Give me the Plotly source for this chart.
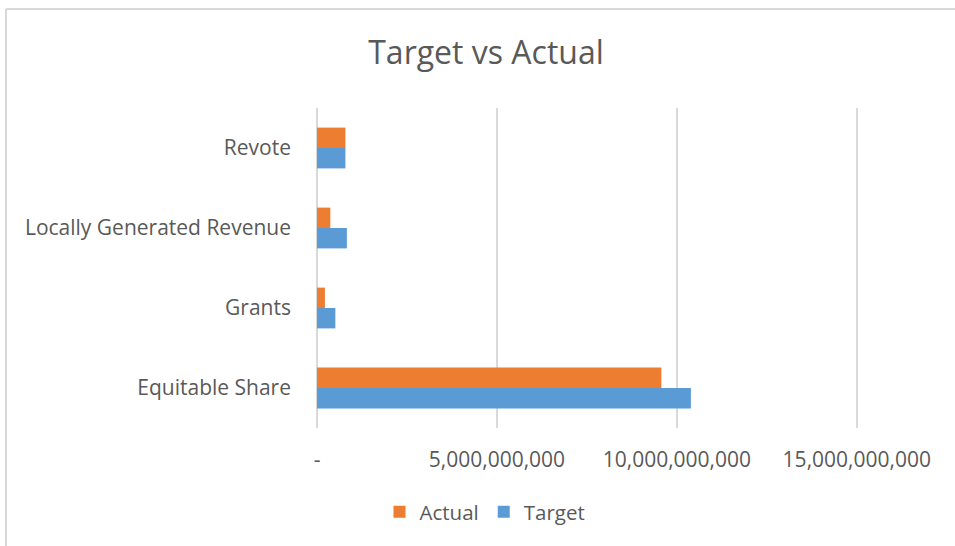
import plotly.graph_objects as go

categories = ["Equitable Share", "Grants", "Locally Generated Revenue", "Revote"]
target = [10.39e9, 0.51e9, 0.83e9, 0.79e9]
actual = [9.57e9, 0.22e9, 0.37e9, 0.79e9]
tick_vals = [0, 5e9, 10e9, 15e9]
tick_text = ["-", "5,000,000,000", "10,000,000,000", "15,000,000,000"]

GRAY_TEXT = "#595959"
GRID = "#d9d9d9"
FONT = "Open Sans"

fig = go.Figure()
fig.add_trace(go.Bar(y=categories, x=target, name="Target", orientation="h",
                     marker=dict(color="#5B9BD5", line=dict(width=0))))
fig.add_trace(go.Bar(y=categories, x=actual, name="Actual", orientation="h",
                     marker=dict(color="#ED7D31", line=dict(width=0))))

W, H = 955, 546
L, T = 317, 108
XMAX = 15.2e9
px_per = (857 - 317) / 15e9
pw = round(XMAX * px_per)
R = W - L - pw
B = H - 428
ph = H - T - B

fig.update_layout(
    width=W, height=H,
    margin=dict(l=L, r=R, t=T, b=B),
    paper_bgcolor="white", plot_bgcolor="white",
    barmode="group", bargap=0.49, bargroupgap=0,
    title=dict(text="Target vs Actual", x=486 / W, xanchor="center",
               y=1 - 53 / H, yanchor="middle",
               font=dict(family=FONT, size=32, color=GRAY_TEXT)),
    xaxis=dict(range=[0, XMAX], tickvals=tick_vals, ticktext=tick_text,
               showgrid=True, gridcolor=GRID, gridwidth=1.5,
               zeroline=True, zerolinecolor=GRID, zerolinewidth=2,
               showline=False, ticks="",
               ticklabelstandoff=17,
               tickfont=dict(family=FONT, size=21, color=GRAY_TEXT)),
    yaxis=dict(showgrid=False, zeroline=False, showline=False, ticks="",
               ticklabelstandoff=25,
               tickfont=dict(family=FONT, size=21, color=GRAY_TEXT)),
    legend=dict(orientation="h", traceorder="reversed",
                xref="container", yref="container",
                x=485 / W, xanchor="center", y=1 - 512 / H, yanchor="middle",
                font=dict(family=FONT, size=20.5, color=GRAY_TEXT),
                itemwidth=30),
    showlegend=True,
    shapes=[
        dict(type="line", xref="paper", yref="paper",
             x0=(6 - L) / pw, x1=(W + 10 - L) / pw,
             y0=(H - B - 9) / ph, y1=(H - B - 9) / ph,
             line=dict(color=GRID, width=2)),
        dict(type="line", xref="paper", yref="paper",
             x0=(6 - L) / pw, x1=(6 - L) / pw,
             y0=(H - B - 9) / ph, y1=(-B - 10) / ph,
             line=dict(color=GRID, width=2)),
    ],
)

fig.write_html("out.html", config={"displayModeBar": False},
               post_script="document.body.style.margin='0';")
